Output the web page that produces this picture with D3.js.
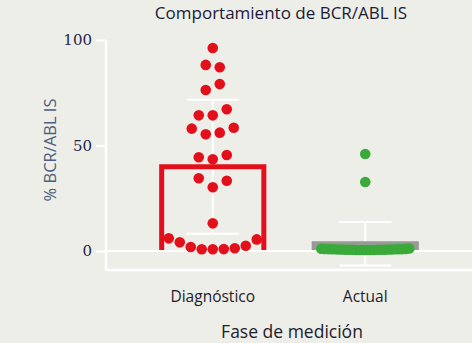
<!DOCTYPE html>
<html>
<head>
<meta charset="utf-8">
<script src="https://cdn.jsdelivr.net/npm/d3@7"></script>
<style>
  html, body { margin: 0; padding: 0; background: #eeeee8; }
  svg { display: block; }
</style>
</head>
<body>
<div id="chart"></div>
<script>
// ---- data ----
const categories = ["Diagnóstico", "Actual"];
// values listed row by row, left to right as they appear in each swarm row
const diagnosticoValues = [96.2, 88.2, 87.1, 76.3, 79.1, 64.3, 64.3, 67.2,
  58.0, 55.3, 56.1, 58.4, 44.4, 43.5, 45.5, 34.5, 30.2, 33.3, 13.1,
  6.0, 4.1, 1.9, 0.8, 0.8, 0.9, 1.3, 2.5, 5.5];
const actualValues = [46.0, 32.7,
  1.1, 1.0, 0.9, 0.8, 0.8, 0.7, 0.7, 0.6, 0.6, 0.6, 0.5, 0.5, 0.5,
  0.5, 0.5, 0.5, 0.6, 0.6, 0.6, 0.7, 0.7, 0.8, 0.8, 0.9, 1.0, 1.2];
const seriesColors = ["#e3101b", "#3aaa3a"];
const barColors = ["#e3101b", "#999999"];
const yTicks = [0, 50, 100];
const yDomain = [-9, 100];
const titleText = "Comportamiento de BCR/ABL IS";
const xTitle = "Fase de medición";
const yTitle = "% BCR/ABL IS";

// ---- layout ----
const W = 472, H = 343;
const plot = { left: 106, right: 472, top: 40, bottom: 270 };
const svg = d3.select("#chart").append("svg").attr("width", W).attr("height", H);
svg.append("rect").attr("width", W).attr("height", H).attr("fill", "#eeeee8");

const x = d3.scalePoint().domain(categories).range([plot.left, plot.right]).padding(0.7);
const y = d3.scaleLinear().domain(yDomain).range([plot.bottom, plot.top]);
const barW = x.step() * 0.67;

const groups = [diagnosticoValues, actualValues].map((vals, i) => ({
  cat: categories[i], values: vals, color: seriesColors[i], barColor: barColors[i],
  mean: d3.mean(vals), sd: d3.deviation(vals)
}));

// swarm: group into rows (greedy by value), keep data order inside each row
function swarm(vals, cx) {
  const idx = vals.map((v, i) => i).sort((a, b) => vals[a] - vals[b]);
  const rows = [];
  let cur = null;
  idx.forEach(i => {
    if (!cur || vals[i] - cur.start >= 6) { cur = { start: vals[i], items: [] }; rows.push(cur); }
    cur.items.push(i);
  });
  const pts = [];
  rows.forEach(r => {
    r.items.sort((a, b) => a - b);
    const n = r.items.length;
    const sp = n > 1 ? Math.min(14, 88 / (n - 1)) : 0;
    r.items.forEach((i, k) => pts.push({ v: vals[i], x: cx + (k - (n - 1) / 2) * sp, y: y(vals[i]) }));
  });
  return pts;
}

// axes
const yAxis = d3.axisLeft(y).tickValues(yTicks).tickSize(10).tickPadding(4);
const gy = svg.append("g").attr("transform", `translate(${plot.left},0)`).call(yAxis);
gy.select(".domain").remove();
gy.selectAll(".tick line").attr("stroke", "#ffffff").attr("stroke-width", 2);
gy.selectAll(".tick text").attr("fill", "#22264a")
  .style("font-family", "'DejaVu Serif', serif").style("font-size", "15px");
svg.append("line").attr("x1", plot.left).attr("x2", plot.left)
  .attr("y1", y(100)).attr("y2", plot.bottom).attr("stroke", "#fff").attr("stroke-width", 2.5);
svg.append("line").attr("x1", plot.left).attr("x2", plot.right)
  .attr("y1", plot.bottom).attr("y2", plot.bottom).attr("stroke", "#fff").attr("stroke-width", 2.5);

// error bars (mean ± SD)
const capW = 52;
groups.forEach(g => {
  const cx = x(g.cat);
  const eb = svg.append("g").attr("stroke", "#ffffff").attr("stroke-width", 2);
  eb.append("line").attr("x1", cx).attr("x2", cx).attr("y1", y(g.mean + g.sd)).attr("y2", y(g.mean - g.sd));
  eb.append("line").attr("x1", cx - capW / 2).attr("x2", cx + capW / 2).attr("y1", y(g.mean + g.sd)).attr("y2", y(g.mean + g.sd));
  eb.append("line").attr("x1", cx - capW / 2).attr("x2", cx + capW / 2).attr("y1", y(g.mean - g.sd)).attr("y2", y(g.mean - g.sd));
});

// bars (open outline)
groups.forEach(g => {
  const cx = x(g.cat);
  const p = d3.path();
  p.moveTo(cx - barW / 2, y(0));
  p.lineTo(cx - barW / 2, y(g.mean));
  p.lineTo(cx + barW / 2, y(g.mean));
  p.lineTo(cx + barW / 2, y(0));
  svg.append("path").attr("d", p.toString()).attr("fill", "none")
    .attr("stroke", g.barColor).attr("stroke-width", 5).attr("stroke-linejoin", "miter");
});

// zero line
svg.append("line").attr("x1", plot.left).attr("x2", plot.right)
  .attr("y1", y(0)).attr("y2", y(0)).attr("stroke", "#fff").attr("stroke-width", 2);

// dots
groups.forEach(g => {
  svg.append("g").selectAll("circle").data(swarm(g.values, x(g.cat))).join("circle")
    .attr("cx", d => d.x).attr("cy", d => d.y).attr("r", 5.3).attr("fill", g.color);
});

// category labels
svg.append("g").selectAll("text").data(categories).join("text")
  .attr("x", d => x(d)).attr("y", 302).attr("text-anchor", "middle")
  .attr("fill", "#1c1c2e").style("font-family", "'Open Sans', sans-serif").style("font-size", "15.5px")
  .text(d => d);

// titles
svg.append("text").attr("x", 281).attr("y", 19).attr("text-anchor", "middle")
  .attr("fill", "#1a1a38").style("font-family", "'Open Sans', sans-serif").style("font-size", "17px")
  .text(titleText);
svg.append("text").attr("x", 292).attr("y", 338).attr("text-anchor", "middle")
  .attr("fill", "#1c1c2e").style("font-family", "'Open Sans', sans-serif").style("font-size", "17.5px")
  .text(xTitle);
svg.append("text").attr("transform", "translate(56,150) rotate(-90)").attr("text-anchor", "middle")
  .attr("fill", "#4d5f80").style("font-family", "'Open Sans', sans-serif").style("font-size", "16.5px")
  .text(yTitle);
</script>
</body>
</html>
